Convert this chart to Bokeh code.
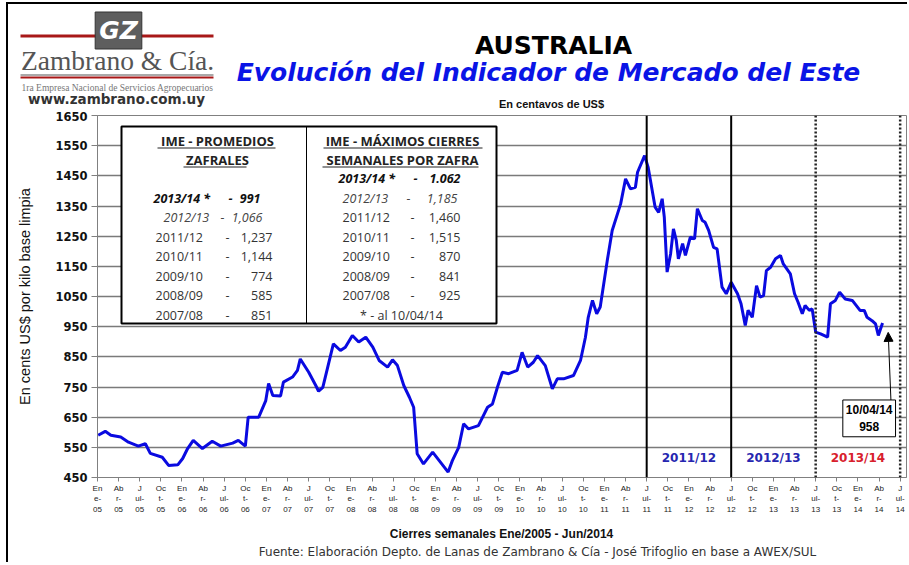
import math
from bokeh.plotting import figure
from bokeh.layouts import column
from bokeh.models import Label, BoxAnnotation, Span, Arrow, NormalHead, FixedTicker, Range1d
from bokeh.embed import file_html
from bokeh.resources import INLINE

# ---------------- data (months since Jan-2005, IME in US cents / kg) ----------------
months = [0.1, 1.1, 1.9, 3.3, 4.4, 5.8, 6.8, 7.5, 9.2, 10.1, 11.4, 12.1, 12.8, 13.6, 14.9,
          16.3, 17.5, 19.2, 20.0, 21.0, 21.4, 22.9, 23.9, 24.3, 24.9, 26.0, 26.4, 27.7, 28.4,
          28.8, 30.0, 31.0, 31.4, 32.0, 32.7, 33.5, 34.5, 35.2, 36.2, 37.1, 38.1, 39.1, 40.0,
          41.2, 41.9, 42.6, 43.5, 44.3, 44.9, 45.4, 46.3, 47.6, 48.7, 49.8, 50.4, 51.3, 52.0,
          52.7, 54.1, 55.4, 56.1, 56.8, 57.5, 58.4, 59.6, 60.3, 61.1, 61.9, 62.5, 63.6, 64.6,
          65.3, 66.2, 67.6, 68.6, 69.3, 69.7, 70.3, 70.9, 71.4, 72.4, 73.1, 74.3, 75.0, 75.7,
          76.4, 76.7, 77.7, 78.2, 79.2, 79.7, 80.2, 80.5, 80.9, 81.4, 81.8, 82.2, 82.5, 83.1,
          83.5, 84.2, 84.8, 85.2, 85.9, 86.3, 86.8, 87.5, 88.0, 88.7, 89.3, 90.0, 90.9, 91.4,
          92.0, 92.4, 93.0, 93.6, 94.1, 94.6, 95.0, 95.6, 96.3, 97.0, 97.4, 98.4, 99.0, 99.5,
          100.1, 100.5, 101.1, 101.5, 102.0, 102.7, 103.7, 104.1, 104.8, 105.4, 106.2, 107.2,
          108.3, 108.9, 109.3, 110.0, 110.5, 110.9, 111.5]
ime = [590, 603, 590, 584, 567, 554, 562, 530, 517, 490, 492, 513, 546, 573, 546,
       570, 554, 564, 573, 554, 650, 650, 705, 762, 722, 720, 766, 783, 805,
       843, 799, 755, 736, 749, 816, 893, 871, 882, 921, 899, 915, 882, 838,
       816, 840, 821, 755, 716, 683, 529, 495, 534, 501, 468, 506, 550, 628,
       611, 622, 683, 694, 749, 799, 794, 805, 865, 816, 832, 854, 821, 744,
       777, 777, 788, 838, 915, 981, 1037, 993, 1015, 1169, 1269, 1357, 1440, 1407,
       1412, 1462, 1517, 1479, 1346, 1329, 1374, 1313, 1131, 1192, 1274, 1236, 1175, 1225,
       1186, 1247, 1241, 1341, 1302, 1296, 1269, 1213, 1208, 1081, 1059, 1097, 1059, 1026,
       954, 1004, 981, 1086, 1048, 1053, 1136, 1147, 1175, 1186, 1158, 1125, 1059, 1031,
       993, 1020, 1004, 1009, 932, 926, 915, 1026, 1037, 1064, 1042, 1037,
       1004, 1004, 981, 970, 959, 921, 962]

y_ticks = list(range(450, 1651, 100))
x_ticks = list(range(0, 115, 3))
month_abbr = ["En\ne-", "Ab\nr-", "J\nul-", "Oc\nt-"]
season_start = [78, 90, 102, 114]          # Jul-11, Jul-12, Jul-13, Jul-14
season_solid = [True, True, False, False]
season_names = ["2011/12", "2012/13", "2013/14"]
season_mid = [84, 96, 108]
season_colors = ["#2626b0", "#2626b0", "#d8202c"]
last_date = "10/04/14"
last_value = 958

prom_years = ["2013/14 *", "2012/13", "2011/12", "2010/11", "2009/10", "2008/09", "2007/08"]
prom_vals = ["991", "1,066", "1,237", "1,144", "774", "585", "851"]
max_years = ["2013/14 *", "2012/13", "2011/12", "2010/11", "2009/10", "2008/09", "2007/08"]
max_vals = ["1.062", "1,185", "1,460", "1,515", "870", "841", "925"]

# page offsets of the layout content
OX, OY = 8, 4
W = 899
HEAD_TOP, HEAD_BOT = OY, 111
MAIN_BOT = 520
FOOT_BOT = 562


def blank_fig(height):
    f = figure(width=W, height=height, output_backend="svg", toolbar_location=None,
               x_range=Range1d(0, 1), y_range=Range1d(0, 1), x_axis_type=None, y_axis_type=None,
               min_border=0, min_border_left=0, min_border_right=0, min_border_top=0,
               min_border_bottom=0)
    f.frame_align = False
    f.outline_line_color = None
    f.xgrid.grid_line_color = None
    f.ygrid.grid_line_color = None
    f.background_fill_color = "white"
    f.border_fill_color = "white"
    return f


def add_label(fig, bottom, text, X, Y, size, color="black", font="Liberation Sans",
              style="normal", align="center", baseline="middle", left=OX, **kw):
    fig.add_layout(Label(x=X - left, y=bottom - Y, x_units="screen", y_units="screen",
                         text=text, text_font=font, text_font_size=f"{size}px",
                         text_color=color, text_font_style=style, text_align=align,
                         text_baseline=baseline, **kw))


def add_box(fig, bottom, X0, Y0, X1, Y1, fill=None, line=None, lw=1.0, left=OX):
    fig.add_layout(BoxAnnotation(left=X0 - left, right=X1 - left, top=bottom - Y0,
                                 bottom=bottom - Y1, left_units="screen", right_units="screen",
                                 top_units="screen", bottom_units="screen",
                                 fill_color=fill if fill else "white",
                                 fill_alpha=1 if fill else 0,
                                 line_color=line if line else "black", line_width=lw,
                                 line_alpha=1 if line else 0))


# ---------------- header figure (logo + titles) ----------------
h = blank_fig(HEAD_BOT - HEAD_TOP)
add_box(h, HEAD_BOT, 20, 34, 213, 37, fill="#a81818")
add_label(h, HEAD_BOT, "GZ", 118, 30, 25, "white", "DejaVu Sans", "bold italic",
          background_fill_color="#5e5e5e", border_line_color="#333333", border_line_width=1,
          padding=4)
add_label(h, HEAD_BOT, "Zambrano & Cía.", 117, 60, 27.5, "#555555", "Liberation Serif")
add_box(h, HEAD_BOT, 20, 74, 213, 75, fill="#555555")
add_box(h, HEAD_BOT, 20, 76, 213, 78, fill="#a81818")
add_label(h, HEAD_BOT, "1ra Empresa Nacional de Servicios Agropecuarios", 117, 87, 9.5,
          "#777777", "Liberation Serif")
add_label(h, HEAD_BOT, "www.zambrano.com.uy", 116, 98, 13.5, "#333333", "DejaVu Sans", "bold")
add_label(h, HEAD_BOT, "AUSTRALIA", 553, 45, 25, "black", "DejaVu Sans", "bold")
add_label(h, HEAD_BOT, "Evolución del Indicador de Mercado del Este", 548, 72, 25, "#0a14e6",
          "DejaVu Sans", "bold italic")
add_label(h, HEAD_BOT, "En centavos de US$", 551, 103, 11, "#111111", "Liberation Sans", "bold")

# ---------------- main figure ----------------
FRAME_L, FRAME_T, FRAME_B, FRAME_R = 97, 115, 477, 906
p = figure(width=W, height=MAIN_BOT - HEAD_BOT, output_backend="svg", toolbar_location=None,
           x_range=Range1d(0, 114.9), y_range=Range1d(450, 1650),
           min_border_left=FRAME_L - OX, min_border_right=OX + W - FRAME_R,
           min_border_top=FRAME_T - HEAD_BOT, min_border_bottom=MAIN_BOT - FRAME_B)
p.frame_align = False
p.background_fill_color = "white"
p.border_fill_color = "white"
p.outline_line_color = "#808080"
p.outline_line_width = 1

p.xgrid.grid_line_color = None
p.ygrid.grid_line_color = "#7a7a7a"
p.ygrid.grid_line_width = 1.5
p.ygrid.ticker = FixedTicker(ticks=y_ticks)

p.yaxis.ticker = FixedTicker(ticks=y_ticks)
p.yaxis.major_label_text_font = "DejaVu Sans"
p.yaxis.major_label_text_font_style = "bold"
p.yaxis.major_label_text_font_size = "11.5px"
p.yaxis.major_label_text_color = "#111111"
p.yaxis.axis_line_color = "#808080"
p.yaxis.major_tick_line_color = "#808080"
p.yaxis.major_tick_in = 0
p.yaxis.major_tick_out = 6
p.yaxis.minor_tick_line_color = None
p.yaxis.major_label_standoff = 4
p.yaxis.axis_label = "En cents US$ por kilo base limpia"
p.yaxis.axis_label_text_font = "Liberation Sans"
p.yaxis.axis_label_text_font_style = "normal"
p.yaxis.axis_label_text_font_size = "14.5px"
p.yaxis.axis_label_text_color = "#111111"
p.yaxis.axis_label_standoff = 19

p.xaxis.ticker = FixedTicker(ticks=x_ticks)
p.xaxis.major_label_overrides = {m: f"{month_abbr[(m // 3) % 4]}\n{5 + m // 12:02d}" for m in x_ticks}
p.xaxis.major_label_text_font = "Liberation Sans"
p.xaxis.major_label_text_font_size = "8px"
p.xaxis.major_label_text_color = "#222222"
p.xaxis.axis_line_color = "#808080"
p.xaxis.major_tick_line_color = "#808080"
p.xaxis.major_tick_in = 0
p.xaxis.major_tick_out = 4
p.xaxis.minor_tick_line_color = None
p.xaxis.major_label_standoff = 2


def slabel(text, X, Y, size, color="black", font="Liberation Sans", style="normal",
           align="center", baseline="middle", **kw):
    add_label(p, FRAME_B, text, X, Y, size, color, font, style, align, baseline,
              left=FRAME_L, **kw)


def sbox(X0, Y0, X1, Y1, fill=None, line=None, lw=1.0):
    add_box(p, FRAME_B, X0, Y0, X1, Y1, fill, line, lw, left=FRAME_L)


# season separators
for loc, solid in zip(season_start, season_solid):
    if solid:
        p.add_layout(Span(location=loc, dimension="height", line_color="black", line_width=2))
    else:
        p.add_layout(Span(location=loc, dimension="height", line_color="#222222", line_width=2.5,
                          line_dash="2 2"))

# the series
p.line(months, ime, line_color="#0a0ae0", line_width=3)

# season labels
for name, mid, col in zip(season_names, season_mid, season_colors):
    p.add_layout(Label(x=mid, y=513, text=name, text_font="DejaVu Sans", text_font_style="bold",
                       text_font_size="12px", text_color=col, text_align="center",
                       text_baseline="middle"))

# last value callout
p.add_layout(Arrow(end=NormalHead(size=9, fill_color="black", line_color="black"),
                   x_start=112.7, y_start=700, x_end=112.3, y_end=931,
                   line_color="black", line_width=1))
p.add_layout(Label(x=109.6, y=646, text=f"{last_date}\n{last_value}", text_font="Liberation Sans",
                   text_font_style="bold", text_font_size="12px", text_color="black",
                   text_align="center", text_baseline="middle",
                   background_fill_color="white", border_line_color="black",
                   border_line_width=1, padding=3))

# ---------------- table ----------------
sbox(121, 126, 496, 323, fill="white", line="black", lw=2)
sbox(305.5, 126, 306.5, 323, fill="black")

TF = "Open Sans"
TS = 12.5
slabel("IME - PROMEDIOS", 217, 140, 13, "#222222", TF, "bold")
slabel("ZAFRALES", 217, 159, 13, "#222222", TF, "bold")
slabel("IME - MÁXIMOS CIERRES", 402, 140, 13, "#222222", TF, "bold")
slabel("SEMANALES POR ZAFRA", 402, 159, 13, "#222222", TF, "bold")
for x0, x1, yy in [(157, 275, 147), (183, 246, 166), (323, 482, 147), (322, 478, 166)]:
    sbox(x0, yy, x1, yy + 1, fill="#222222")

left_rows_y = [198, 217, 236.5, 256, 275.5, 295, 314.5]
right_rows_y = [178, 198, 217, 236.5, 256, 275.5, 295]
for i, (yr, v) in enumerate(zip(prom_years, prom_vals)):
    Y = left_rows_y[i]
    if i == 0:
        st, col, xs, xd, xv = "bold italic", "#111111", 153, 230, 260
    elif i == 1:
        st, col, xs, xd, xv = "italic", "#444444", 163, 222, 262
    else:
        st, col, xs, xd, xv = "normal", "#333333", 155, 227, 272
    slabel(yr, xs, Y, TS, col, TF, st, align="left")
    slabel("-", xd, Y, TS, col, TF, st)
    slabel(v, xv, Y, TS, col, TF, st, align="right")
for i, (yr, v) in enumerate(zip(max_years, max_vals)):
    Y = right_rows_y[i]
    if i == 0:
        st, col, xs, xd, xv = "bold italic", "#111111", 338, 415, 460
    elif i == 1:
        st, col, xs, xd, xv = "italic", "#444444", 342, 408, 457
    else:
        st, col, xs, xd, xv = "normal", "#333333", 342, 412, 460
    slabel(yr, xs, Y, TS, col, TF, st, align="left")
    slabel("-", xd, Y, TS, col, TF, st)
    slabel(v, xv, Y, TS, col, TF, st, align="right")
slabel("* - al 10/04/14", 401, 314.5, TS, "#333333", TF)

# ---------------- footer figure ----------------
f = blank_fig(FOOT_BOT - MAIN_BOT)
add_label(f, FOOT_BOT, "Cierres semanales Ene/2005 - Jun/2014", 501, 533, 12, "#111111",
          "Liberation Sans", "bold")
add_label(f, FOOT_BOT, "Fuente: Elaboración Depto. de Lanas de Zambrano & Cía - José Trifoglio en base a AWEX/SUL",
          537, 551, 12, "#333333", "DejaVu Sans")

layout = column(h, p, f, spacing=0)
layout.styles = {"border-left": "2px solid black", "border-top": "2px solid black",
                 "margin-left": "6px", "margin-top": "2px"}

open("out.html", "w").write(file_html(layout, INLINE))
